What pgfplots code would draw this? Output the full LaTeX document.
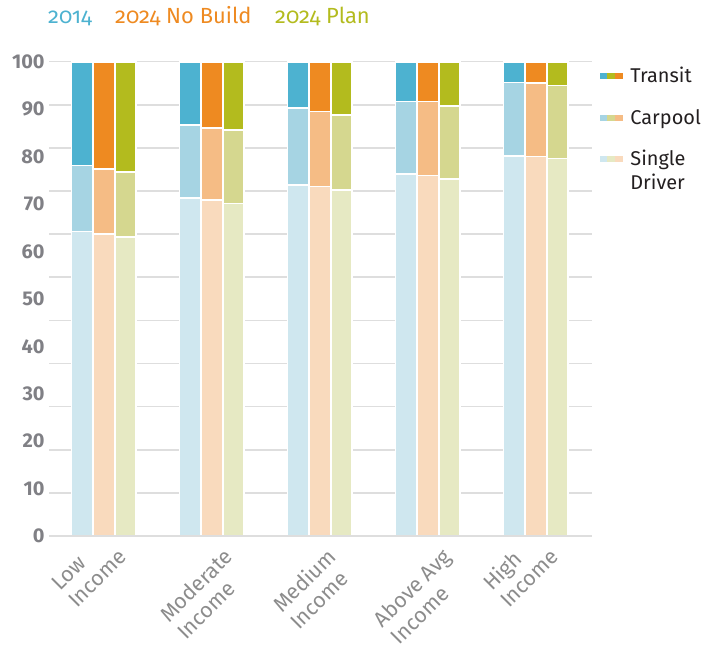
\documentclass[border=0pt]{standalone}
\usepackage{graphicx}
\usepackage{pgfplots}
\usepackage{pgfplotstable}
\pgfplotsset{compat=1.18}
\usepackage{fontspec}
\setmainfont{Fira Sans}
\newfontfamily\osfont[Numbers=OldStyle]{Fira Sans}
\definecolor{tA}{HTML}{4DB2D0}
\definecolor{cA}{HTML}{A6D4E3}
\definecolor{sA}{HTML}{CFE7EF}
\definecolor{tB}{HTML}{EE8A21}
\definecolor{cB}{HTML}{F5BC85}
\definecolor{sB}{HTML}{F9DABD}
\definecolor{tC}{HTML}{B3BB1E}
\definecolor{cC}{HTML}{D5D78F}
\definecolor{sC}{HTML}{E6E9C3}
\definecolor{tickgray}{HTML}{808085}
\definecolor{labelgray}{HTML}{8C8C8C}
\definecolor{gridgray}{HTML}{DEDEDE}
\definecolor{legtext}{HTML}{231F20}

% group: 0 Low, 1 Moderate, 2 Medium, 3 Above Avg, 4 High
% S = single driver, C = carpool, T = transit (percent)
\pgfplotstableread{
x S C T
0 64.2 13.9 21.9
1 71.3 15.3 13.4
2 74.0 16.2 9.8
3 76.3 15.3 8.4
4 80.2 15.4 4.4
}\dataA
\pgfplotstableread{
x S C T
0 63.7 13.7 22.6
1 70.8 15.3 13.9
2 73.7 15.8 10.5
3 76.0 15.6 8.4
4 80.0 15.5 4.5
}\dataB
\pgfplotstableread{
x S C T
0 63.0 13.7 23.3
1 70.1 15.5 14.4
2 73.0 15.7 11.3
3 75.3 15.4 9.3
4 79.6 15.4 5.0
}\dataC

\newcommand{\catlab}[2]{\rotatebox{45}{\begin{tabular}{@{}l@{}}#1\\#2\end{tabular}}}
\newcommand{\catlabs}[2]{\rotatebox{45}{\raisebox{0pt}[\dimexpr\height-24bp\relax]{\begin{tabular}{@{}l@{}}#1\\#2\end{tabular}}}}

\pgfplotsset{
  base/.style={
    scale only axis, width=542.4bp, height=474.3bp,
    xmin=-0.505, xmax=4.517, ymin=0, ymax=100,
    ybar stacked, bar width=21.6bp,
  },
  seg/.style={draw=white, line width=1.8bp, fill=#1},
}

\begin{document}
\begin{tikzpicture}
\useasboundingbox (-49.3bp,-112bp) rectangle (654.7bp,536bp);

% 2014 + grid + tick labels
\begin{axis}[base,
  axis line style={draw=none},
  tick style={draw=none},
  ytick={0,10,20,30,40,50,60,70,80,90,100},
  yticklabels={0,10,20,30,40,50,60,70,80,90,100},
  minor ytick={0,9.0909,18.1818,27.2727,36.3636,45.4545,54.5454,63.6363,72.7272,81.8181,90.9090,100},
  yminorgrids=true, ymajorgrids=false,
  minor grid style={gridgray, line width=1.6bp},
  yticklabel style={font=\bfseries\fontsize{20}{24}\selectfont, text=tickgray, inner sep=0pt, xshift=-4.5bp},
  xtick={0,1,2,3,4},
  xticklabels={\catlabs{Low}{Income},\catlab{Moderate}{Income},\catlab{Medium}{Income},\catlab{Above Avg}{Income},\catlabs{High}{Income}},
  xticklabel style={font=\fontsize{21.5}{24.5}\selectfont, text=labelgray, inner sep=0pt, anchor=north, yshift=-10bp, xshift=-5bp},
]
\addplot[seg=sA, bar shift=-21.6bp] table[x=x,y=S]{\dataA};
\addplot[seg=cA, bar shift=-21.6bp] table[x=x,y=C]{\dataA};
\addplot[seg=tA, bar shift=-21.6bp] table[x=x,y=T]{\dataA};
\end{axis}

% 2024 No Build
\begin{axis}[base, hide axis]
\addplot[seg=sB, bar shift=0bp] table[x=x,y=S]{\dataB};
\addplot[seg=cB, bar shift=0bp] table[x=x,y=C]{\dataB};
\addplot[seg=tB, bar shift=0bp] table[x=x,y=T]{\dataB};
\end{axis}

% 2024 Plan + bottom line + legend
\begin{axis}[base,
  axis x line*=bottom, axis y line=none,
  xtick=\empty, ytick=\empty, axis on top,
  x axis line style={draw=gridgray, line width=2bp},
  legend style={at={(rel axis cs:1.0153,0.987)}, anchor=north west,
    draw=none, fill=none, inner sep=0pt, outer sep=0pt, row sep=21.5bp,
    font=\fontsize{20}{24}\selectfont, text=legtext,
    nodes={inner sep=0pt, text height=15bp, text depth=5bp, anchor=base west},
    /tikz/every odd column/.style={column sep=8bp}},
]
\addplot[seg=sC, bar shift=21.6bp, forget plot] table[x=x,y=S]{\dataC};
\addplot[seg=cC, bar shift=21.6bp, forget plot] table[x=x,y=C]{\dataC};
\addplot[seg=tC, bar shift=21.6bp, forget plot] table[x=x,y=T]{\dataC};
\addlegendimage{legend image code/.code={
  \fill[tA] (0bp,4.5bp) rectangle (7.4bp,9.5bp);
  \fill[tC] (7.3bp,4.5bp) rectangle (14.7bp,9.5bp);
  \fill[tB] (14.6bp,4.5bp) rectangle (22bp,9.5bp);}}
\addlegendentry{Transit}
\addlegendimage{legend image code/.code={
  \fill[cA] (0bp,4.5bp) rectangle (7.4bp,9.5bp);
  \fill[cC] (7.3bp,4.5bp) rectangle (14.7bp,9.5bp);
  \fill[cB] (14.6bp,4.5bp) rectangle (22bp,9.5bp);}}
\addlegendentry{Carpool}
\addlegendimage{legend image code/.code={
  \fill[sA] (0bp,4.5bp) rectangle (7.4bp,9.5bp);
  \fill[sC] (7.3bp,4.5bp) rectangle (14.7bp,9.5bp);
  \fill[sB] (14.6bp,4.5bp) rectangle (22bp,9.5bp);}}
\addlegendentry{\begin{tabular}[t]{@{}l@{}}Single\\Driver\end{tabular}}
\end{axis}

% series key above the plot
\node[anchor=base west, inner sep=0pt, text=tA, font=\osfont\fontsize{22}{26}\selectfont] at (-1.3bp,512bp) {2014};
\node[anchor=base west, inner sep=0pt, text=tB, font=\osfont\fontsize{22}{26}\selectfont] at (65.7bp,512bp) {2024 No Build};
\node[anchor=base west, inner sep=0pt, text=tC, font=\osfont\fontsize{22}{26}\selectfont] at (225.7bp,512bp) {2024 Plan};
\end{tikzpicture}
\end{document}
